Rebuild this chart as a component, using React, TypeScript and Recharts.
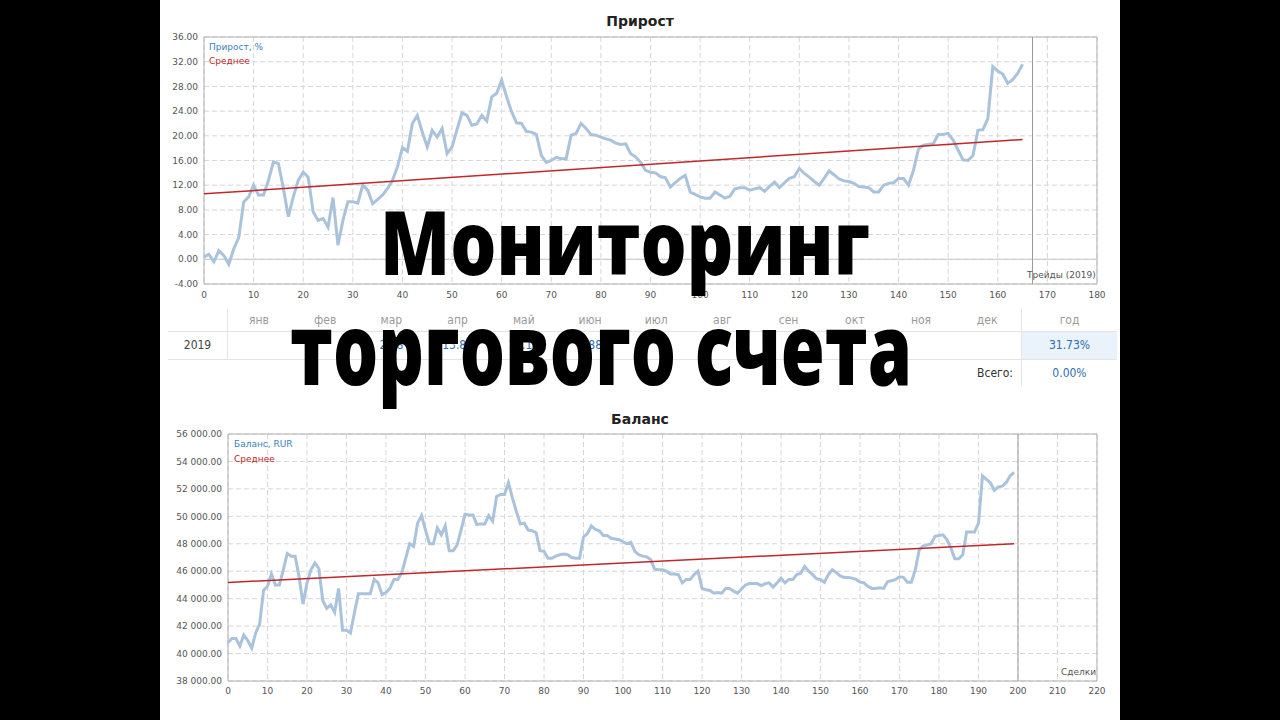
import React from 'react';
import {
  LineChart,
  Line,
  XAxis,
  YAxis,
  CartesianGrid,
  ReferenceLine,
  ReferenceArea,
} from 'recharts';

// Прирост, % по трейдам
const growthValues = [
  0.4, 0.8, -0.4, 1.4, 0.6, -0.8, 1.7, 3.5, 9.3, 10.1,
  12.0, 10.4, 10.4, 12.8, 15.8, 15.5, 11.5, 6.9, 10.1, 12.8,
  14.1, 13.3, 7.7, 6.3, 6.6, 5.2, 10.0, 2.3, 6.3, 9.3,
  9.3, 9.1, 12.0, 11.2, 9.0, 9.7, 10.4, 11.5, 12.8, 15.0,
  18.1, 17.5, 22.0, 23.3, 20.6, 18.2, 20.9, 19.8, 21.2, 17.1,
  18.2, 21.0, 23.7, 23.3, 21.7, 21.9, 23.3, 22.4, 26.3, 26.9,
  29.0, 26.3, 23.9, 22.1, 22.0, 20.7, 20.6, 20.2, 16.8, 15.7,
  16.0, 16.5, 16.3, 16.3, 20.1, 20.4, 22.0, 21.2, 20.2, 20.1,
  19.8, 19.5, 19.3, 18.8, 18.6, 18.7, 17.1, 16.6, 15.7, 14.4,
  14.1, 14.0, 13.4, 13.2, 11.7, 12.4, 13.1, 13.6, 10.9, 10.5,
  10.1, 9.9, 9.9, 10.9, 10.4, 9.9, 10.2, 11.4, 11.6, 11.6,
  11.2, 11.4, 11.6, 11.0, 11.8, 12.5, 11.6, 12.4, 13.1, 13.4,
  14.7, 13.9, 13.3, 12.6, 12.0, 13.1, 14.3, 13.7, 13.0, 12.7,
  12.6, 12.3, 11.8, 11.7, 11.6, 10.9, 10.9, 12.0, 12.3, 12.4,
  13.1, 13.1, 12.0, 14.4, 17.8, 18.5, 18.6, 18.7, 20.2, 20.2,
  20.4, 19.3, 17.7, 16.1, 16.0, 16.8, 20.9, 21.0, 22.8, 31.2,
  30.5, 30.0, 28.5, 29.1, 30.1, 31.6,
];
const growthAverage = [10.6, 19.4];
const growthTicksY = [-4, 0, 4, 8, 12, 16, 20, 24, 28, 32, 36];
const growthTicksX = [0, 10, 20, 30, 40, 50, 60, 70, 80, 90, 100, 110, 120, 130, 140, 150, 160, 170, 180];

// Баланс, RUR по сделкам
const balanceValues = [
  40800, 41100, 41100, 40550, 41350, 40950, 40400, 41500, 42150, 44600,
  44900, 45800, 45000, 45000, 46100, 47300, 47100, 47100, 45600, 43600,
  45150, 46100, 46600, 46200, 43850, 43300, 43550, 43000, 44750, 41700,
  41700, 41500, 42950, 44350, 44350, 44350, 44350, 45400, 45150, 44300,
  44450, 44750, 45400, 45400, 45900, 46950, 48000, 47800, 49500, 50050,
  49000, 48000, 48000, 49150, 48650, 49300, 47500, 47500, 47900, 49000,
  50150, 50100, 50100, 49400, 49450, 49450, 50050, 49650, 51450, 51600,
  51600, 52450, 51350, 50350, 49450, 49500, 49000, 48950, 48800, 47500,
  47450, 46950, 46950, 47100, 47200, 47250, 47200, 47000, 46950, 46950,
  48500, 48750, 49300, 49050, 48950, 48600, 48600, 48400, 48350, 48300,
  48150, 48000, 48100, 47450, 47200, 47100, 47050, 46850, 46150, 46100,
  46100, 46000, 45800, 45800, 45750, 45150, 45400, 45400, 45750, 46000,
  44750, 44650, 44600, 44400, 44450, 44400, 44750, 44750, 44550, 44400,
  44700, 45000, 45100, 45100, 45100, 44950, 45100, 45150, 44850, 45150,
  45500, 45150, 45400, 45400, 45750, 45850, 46350, 46000, 45750, 45450,
  45400, 45200, 45750, 46100, 45900, 45650, 45550, 45550, 45500, 45400,
  45200, 45150, 44900, 44750, 44750, 44800, 44750, 45250, 45300, 45400,
  45600, 45550, 45200, 45200, 46100, 47550, 47850, 47900, 48000, 48550,
  48600, 48650, 48300, 47700, 46900, 46900, 47200, 48850, 48850, 48850,
  49500, 52950, 52700, 52450, 51900, 52150, 52200, 52450, 52950, 53200,
];
const balanceAverage = [45180, 48000];
const balanceTicksY = [38000, 40000, 42000, 44000, 46000, 48000, 50000, 52000, 54000, 56000];
const balanceTicksX = [0, 10, 20, 30, 40, 50, 60, 70, 80, 90, 100, 110, 120, 130, 140, 150, 160, 170, 180, 190, 200, 210, 220];

// таблица по месяцам
const months = ['янв', 'фев', 'мар', 'апр', 'май', 'июн', 'июл', 'авг', 'сен', 'окт', 'ноя', 'дек'];
const monthValues = ['', '', '2.18', '13.81', '14.10', '1.88', '', '', '', '', '', ''];
const yearLabel = '2019';
const yearTotal = '31.73%';
const allTotal = '0.00%';

const growthData = growthValues.map((v, i) => ({ x: i, v }));
const growthAvgData = [
  { x: 0, avg: growthAverage[0] },
  { x: growthValues.length - 1, avg: growthAverage[1] },
];
const balanceData = balanceValues.map((v, i) => ({ x: i, v }));
const balanceAvgData = [
  { x: 0, avg: balanceAverage[0] },
  { x: balanceValues.length - 1, avg: balanceAverage[1] },
];

const tickFont = { fill: '#555', fontSize: 9, fontFamily: 'DejaVu Sans, Verdana, sans-serif' };
const smallFont = 'DejaVu Sans, Verdana, sans-serif';
const narrowFont = "'Liberation Sans Narrow', 'DejaVu Sans Condensed', Roboto, sans-serif";

const fmtSpace = (n: number) =>
  n.toFixed(2).replace(/\B(?=(\d{3})+(?!\d))/g, ' ');

const lineColor = '#a9c3dc';
const avgColor = '#c0272d';

const App: React.FC = () => {
  return (
    <div style={{ position: 'absolute', left: 0, top: 0, width: 1280, height: 720, background: '#000', overflow: 'hidden' }}>
      <div style={{ position: 'absolute', left: 160, top: 0, width: 960, height: 720, background: '#fff' }} />

      {/* Прирост */}
      <div style={{ position: 'absolute', left: 160, top: 13, width: 960, textAlign: 'center', fontFamily: smallFont, fontWeight: 'bold', fontSize: 14, color: '#222' }}>
        Прирост
      </div>
      <div style={{ position: 'absolute', left: 160, top: 0 }}>
        <LineChart width={960} height={310} data={growthData} margin={{ top: 37, right: 23, bottom: 6, left: 0 }}>
          <CartesianGrid stroke="#d6d6d6" strokeDasharray="5 3" />
          <XAxis
            dataKey="x"
            type="number"
            domain={[0, 180]}
            ticks={growthTicksX}
            interval={0}
            axisLine={false}
            tickLine={false}
            tickSize={0}
            tickMargin={8}
            height={20}
            tick={tickFont}
          />
          <YAxis
            type="number"
            domain={[-4, 36]}
            ticks={growthTicksY}
            interval={0}
            axisLine={false}
            tickLine={false}
            tickSize={0}
            tickMargin={6}
            width={44}
            tick={tickFont}
            tickFormatter={(v: number) => v.toFixed(2)}
          />
          <ReferenceLine y={0} stroke="#c8c8c8" />
          <ReferenceLine x={167} stroke="#9a9a9a" />
          <ReferenceArea x1={0} x2={180} y1={-4} y2={36} fill="none" stroke="#b0b0b0" />
          <Line dataKey="v" stroke={lineColor} strokeWidth={3} dot={false} isAnimationActive={false} />
          <Line data={growthAvgData} dataKey="avg" stroke={avgColor} strokeWidth={1.5} dot={false} isAnimationActive={false} />
        </LineChart>
      </div>
      <div style={{ position: 'absolute', left: 209, top: 42, fontFamily: smallFont, fontSize: 9, color: '#3c7fc0' }}>Прирост, %</div>
      <div style={{ position: 'absolute', left: 209, top: 56, fontFamily: smallFont, fontSize: 9, color: avgColor }}>Среднее</div>
      <div style={{ position: 'absolute', left: 1027, top: 270, fontFamily: smallFont, fontSize: 9, color: '#555' }}>Трейды (2019)</div>

      {/* Таблица */}
      <div style={{ position: 'absolute', left: 168, top: 331, width: 949, height: 1, background: '#e4e4e4' }} />
      <div style={{ position: 'absolute', left: 168, top: 359, width: 949, height: 1, background: '#e4e4e4' }} />
      <div style={{ position: 'absolute', left: 227, top: 309, width: 1, height: 50, background: '#e4e4e4' }} />
      <div style={{ position: 'absolute', left: 1021, top: 309, width: 1, height: 77, background: '#e4e4e4' }} />
      <div style={{ position: 'absolute', left: 1022, top: 332, width: 95, height: 27, background: '#eaf2fb' }} />
      {months.map((m, i) => (
        <div key={m} style={{ position: 'absolute', left: 226 + i * 66.2, top: 313, width: 66, textAlign: 'center', fontFamily: narrowFont, fontSize: 12, color: '#9a9a9a' }}>
          {m}
        </div>
      ))}
      <div style={{ position: 'absolute', left: 1022, top: 313, width: 95, textAlign: 'center', fontFamily: narrowFont, fontSize: 12, color: '#9a9a9a' }}>год</div>
      <div style={{ position: 'absolute', left: 168, top: 338, width: 59, textAlign: 'center', fontFamily: narrowFont, fontSize: 12, color: '#444' }}>{yearLabel}</div>
      {monthValues.map((v, i) => (
        <div key={'v' + i} style={{ position: 'absolute', left: 226 + i * 66.2, top: 338, width: 66, textAlign: 'center', fontFamily: narrowFont, fontSize: 12, color: '#2e6db4' }}>
          {v}
        </div>
      ))}
      <div style={{ position: 'absolute', left: 1022, top: 338, width: 95, textAlign: 'center', fontFamily: narrowFont, fontSize: 12, color: '#2e6db4' }}>{yearTotal}</div>
      <div style={{ position: 'absolute', left: 940, top: 366, width: 73, textAlign: 'right', fontFamily: narrowFont, fontSize: 12, color: '#333' }}>Всего:</div>
      <div style={{ position: 'absolute', left: 1022, top: 366, width: 95, textAlign: 'center', fontFamily: narrowFont, fontSize: 12, color: '#2e6db4' }}>{allTotal}</div>

      {/* Баланс */}
      <div style={{ position: 'absolute', left: 160, top: 411, width: 960, textAlign: 'center', fontFamily: smallFont, fontWeight: 'bold', fontSize: 14, color: '#222' }}>
        Баланс
      </div>
      <div style={{ position: 'absolute', left: 160, top: 400 }}>
        <LineChart width={960} height={310} data={balanceData} margin={{ top: 34, right: 23, bottom: 9, left: 0 }}>
          <CartesianGrid stroke="#d6d6d6" strokeDasharray="5 3" />
          <XAxis
            dataKey="x"
            type="number"
            domain={[0, 220]}
            ticks={balanceTicksX}
            interval={0}
            axisLine={false}
            tickLine={false}
            tickSize={0}
            tickMargin={7}
            height={20}
            tick={tickFont}
          />
          <YAxis
            type="number"
            domain={[38000, 56000]}
            ticks={balanceTicksY}
            interval={0}
            axisLine={false}
            tickLine={false}
            tickSize={0}
            tickMargin={6}
            width={68}
            tick={tickFont}
            tickFormatter={fmtSpace}
          />
          <ReferenceLine x={200} stroke="#9a9a9a" />
          <ReferenceArea x1={0} x2={220} y1={38000} y2={56000} fill="none" stroke="#b0b0b0" />
          <Line dataKey="v" stroke={lineColor} strokeWidth={3} dot={false} isAnimationActive={false} />
          <Line data={balanceAvgData} dataKey="avg" stroke={avgColor} strokeWidth={1.5} dot={false} isAnimationActive={false} />
        </LineChart>
      </div>
      <div style={{ position: 'absolute', left: 234, top: 439, fontFamily: smallFont, fontSize: 9, color: '#3c7fc0' }}>Баланс, RUR</div>
      <div style={{ position: 'absolute', left: 234, top: 454, fontFamily: smallFont, fontSize: 9, color: avgColor }}>Среднее</div>
      <div style={{ position: 'absolute', left: 1061, top: 667, fontFamily: smallFont, fontSize: 9, color: '#555' }}>Сделки</div>

      {/* Заголовок поверх */}
      <svg width={1280} height={720} style={{ position: 'absolute', left: 0, top: 0, pointerEvents: 'none' }}>
        <text x={380} y={275} fontFamily="'Open Sans', 'Noto Sans', sans-serif" fontWeight={800} fontSize={88} fill="#000" textLength={490} lengthAdjust="spacingAndGlyphs">
          Мониторинг
        </text>
        <text x={290} y={385} fontFamily="'Open Sans', 'Noto Sans', sans-serif" fontWeight={800} fontSize={100} fill="#000" textLength={622} lengthAdjust="spacingAndGlyphs">
          торгового счета
        </text>
      </svg>
    </div>
  );
};

export default App;
